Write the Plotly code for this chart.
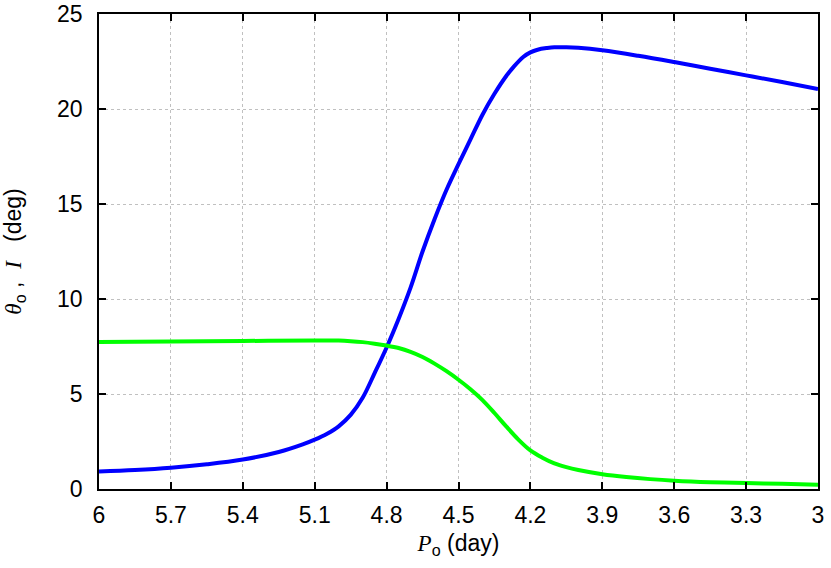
import plotly.graph_objects as go

# Period P_o (day) and angles (deg)
blue_x = [6.0, 5.85, 5.7, 5.55, 5.4, 5.25, 5.15, 5.1, 5.05, 5.0, 4.95, 4.9, 4.85, 4.8, 4.75,
          4.7, 4.65, 4.6, 4.55, 4.5, 4.45, 4.4, 4.35, 4.3, 4.27, 4.23, 4.2, 4.17, 4.13, 4.1, 4.05, 4.0,
          3.9, 3.75, 3.6, 3.45, 3.3, 3.15, 3.0]
blue_y = [0.92, 1.0, 1.12, 1.3, 1.55, 1.95, 2.35, 2.6, 2.9, 3.3, 3.9, 4.8, 6.1, 7.45, 8.95,
          10.6, 12.5, 14.2, 15.75, 17.1, 18.4, 19.7, 20.8, 21.75, 22.22, 22.74, 22.98, 23.12, 23.21, 23.25, 23.25, 23.22,
          23.09, 22.8, 22.47, 22.12, 21.77, 21.42, 21.05]

green_x = [6.0, 5.7, 5.4, 5.1, 5.0, 4.95, 4.9, 4.85, 4.8, 4.75, 4.7, 4.65, 4.6, 4.55, 4.5,
           4.45, 4.4, 4.35, 4.3, 4.25, 4.2, 4.15, 4.1, 4.05, 4.0, 3.9, 3.8, 3.7, 3.6, 3.45,
           3.3, 3.15, 3.0]
green_y = [7.74, 7.76, 7.79, 7.82, 7.81, 7.78, 7.73, 7.65, 7.55, 7.42, 7.22, 6.95, 6.6, 6.2, 5.75,
           5.25, 4.68, 4.0, 3.28, 2.6, 2.03, 1.65, 1.35, 1.15, 1.0, 0.78, 0.63, 0.52, 0.44, 0.36,
           0.31, 0.27, 0.23]

x_ticks = [6, 5.7, 5.4, 5.1, 4.8, 4.5, 4.2, 3.9, 3.6, 3.3, 3]
x_tick_labels = ["6", "5.7", "5.4", "5.1", "4.8", "4.5", "4.2", "3.9", "3.6", "3.3", "3"]
y_ticks = [0, 5, 10, 15, 20, 25]
y_tick_labels = ["0", "5", "10", "15", "20", "25"]

fig = go.Figure()
fig.add_trace(go.Scatter(x=blue_x, y=blue_y, mode="lines", hoverinfo="skip",
                         line=dict(color="#0000ff", width=4, shape="spline", smoothing=1.0)))
fig.add_trace(go.Scatter(x=green_x, y=green_y, mode="lines", hoverinfo="skip",
                         line=dict(color="#00ff00", width=4, shape="spline", smoothing=1.0)))

serif_i = "font-family:'Liberation Serif',serif;font-style:italic"
FS = 23
FONT = dict(family="Liberation Sans, Arial, sans-serif", size=FS, color="black")
fig.update_layout(
    width=831, height=568,
    margin=dict(l=99, r=13, t=14, b=79, autoexpand=False),
    paper_bgcolor="white", plot_bgcolor="white",
    showlegend=False,
    font=FONT,
    xaxis=dict(
        range=[6, 3], tickvals=x_ticks, ticktext=x_tick_labels, tickfont=FONT,
        ticks="inside", ticklen=7, tickwidth=1.5, tickcolor="black",
        ticklabelstandoff=5, automargin=False,
        showline=True, linecolor="black", linewidth=1.5, mirror="ticks",
        showgrid=True, gridcolor="#c0c0c0", griddash="dot", gridwidth=1,
        zeroline=False,
        title=dict(text=f"<span style=\"{serif_i}\">P</span><sub>o</sub> (day)",
                   standoff=8, font=FONT),
    ),
    yaxis=dict(
        range=[0, 25], tickvals=y_ticks, ticktext=y_tick_labels, tickfont=FONT,
        ticks="inside", ticklen=7, tickwidth=1.5, tickcolor="black",
        ticklabelstandoff=10, automargin=False,
        showline=True, linecolor="black", linewidth=1.5, mirror="ticks",
        showgrid=True, gridcolor="#c0c0c0", griddash="dot", gridwidth=1,
        zeroline=False,
        title=dict(text=f"<span style=\"{serif_i}\">θ</span><sub>o</sub> ,  <span style=\"{serif_i}\">I</span>   (deg)",
                   standoff=30, font=FONT),
    ),
)

fig.write_html("out.html", config={"displayModeBar": False},
               post_script="document.body.style.margin='0';")
